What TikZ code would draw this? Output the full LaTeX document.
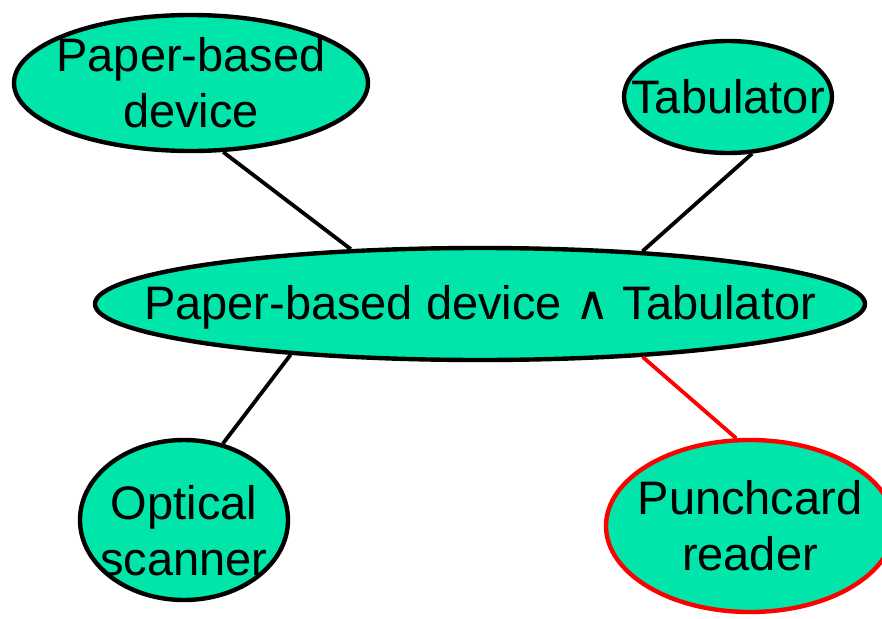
\documentclass[tikz,border=0pt]{standalone}
\usepackage{fontspec}
\setmainfont{Liberation Sans}
\newfontfamily\symfont{DejaVu Sans}
\usetikzlibrary{shapes.geometric}
\definecolor{blobfill}{RGB}{0,229,170}
\begin{document}
\begin{tikzpicture}[x=1pt,y=-1pt,
  blob/.style={ellipse,draw=black,line width=4.4pt,fill=blobfill,
    inner xsep=-500pt,inner ysep=-500pt,
    align=center,font=\fontsize{47}{56}\selectfont},
  link/.style={line width=3.8pt}]
\useasboundingbox (0,0) rectangle (882,618);

% Knoten oben
\node[blob,minimum width=354pt,minimum height=136pt] (paper) at (191,83) {Paper-based\\device};
\node[blob,minimum width=208pt,minimum height=112pt] (tab)   at (728,97) {Tabulator};

% Konjunktion in der Mitte
\node[blob,minimum width=770pt,minimum height=112pt,text height=40pt] (conj) at (480,304)
  {Paper-based device {\symfont ∧} Tabulator};

% Knoten unten
\node[blob,minimum width=208pt,minimum height=160pt,text height=112pt] (optic) at (184,520) {Optical\\scanner};
\node[blob,draw=red,minimum width=288pt,minimum height=172pt] (punch) at (750,526) {Punchcard\\reader};

\draw[link] (paper.-65) -- (conj.157.6);
\draw[link] (tab.-67)   -- (conj.18.45);
\draw[link] (conj.-165.8) -- (optic.63);
\draw[link,red] (conj.-18.45) -- (punch.99);

\end{tikzpicture}
\end{document}
